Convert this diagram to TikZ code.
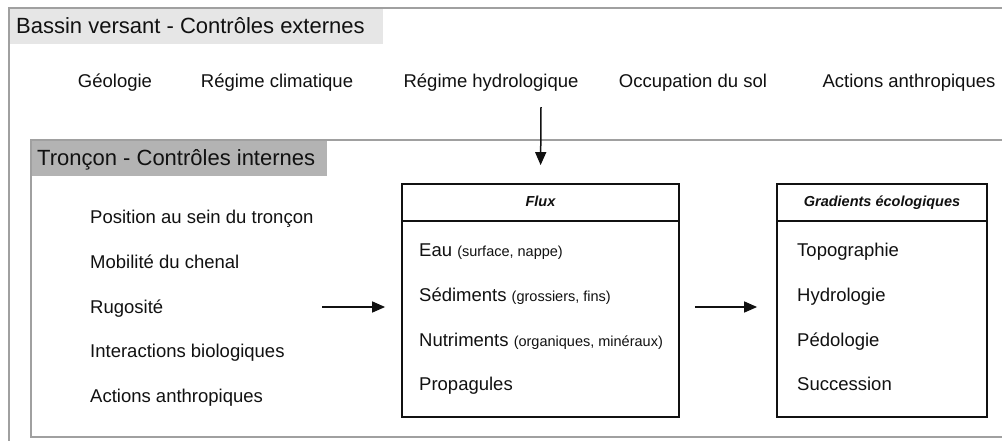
\documentclass[tikz,border=0pt]{standalone}
\usepackage{fontspec}
\setmainfont{Liberation Sans}
\usetikzlibrary{arrows.meta}
\definecolor{framegray}{HTML}{A0A0A0}
\definecolor{headlight}{HTML}{E6E6E6}
\definecolor{headdark}{HTML}{B3B3B3}
\definecolor{ink}{HTML}{111111}
\newcommand\myparen[1]{{\fontsize{14.5}{16}\selectfont #1}}
\begin{document}
\begin{tikzpicture}[x=1pt,y=-1pt,
  item/.style={font=\fontsize{18.5}{20}\selectfont, text=ink, inner sep=0pt, anchor=base west},
  topitem/.style={font=\fontsize{18.5}{20}\selectfont, text=ink, inner sep=0pt, anchor=base},
  title/.style={font=\fontsize{22}{24}\selectfont, text=ink, inner sep=0pt, anchor=base west},
  boxhead/.style={font=\fontsize{14.5}{16}\selectfont\bfseries\itshape, text=ink, inner sep=0pt, anchor=base},
  panel/.style={draw=ink, line width=1.8pt, fill=white, inner sep=0pt},
  divider/.style={draw=ink, line width=1.8pt},
  frame/.style={draw=framegray, line width=2pt},
  arr/.style={-{Triangle[length=13pt,width=11pt]}, line width=1.5pt, draw=ink},
]
\useasboundingbox (0,0) rectangle (1002,440);
\clip (0,0) rectangle (1002,440);
\fill[white] (0,0) rectangle (1002,440);

% outer frame (bassin versant)
\fill[headlight] (9,8) rectangle (383,44);
\draw[frame] (9,8) rectangle (1030,470);
\node[title] (bvtitle) at (16,33) {Bassin versant - Contrôles externes};

\node[topitem] (geol) at (115,87) {Géologie};
\node[topitem] (clim) at (277,87) {Régime climatique};
\node[topitem] (hydro) at (491,87) {Régime hydrologique};
\node[topitem] (occup) at (693,87) {Occupation du sol};
\node[topitem] (anthro) at (909,87) {Actions anthropiques};

% inner frame (troncon)
\fill[headdark] (31,140) rectangle (327,176);
\draw[frame] (31,140) rectangle (1030,437);
\node[title] (trtitle) at (37,165) {Tronçon - Contrôles internes};

\node[item] (pos) at (90,223) {Position au sein du tronçon};
\node[item] (mob) at (90,268) {Mobilité du chenal};
\node[item] (rug) at (90,313) {Rugosité};
\node[item] (inter) at (90,357.5) {Interactions biologiques};
\node[item] (actint) at (90,402.5) {Actions anthropiques};

% Flux box
\node[panel, minimum width=277pt, minimum height=233pt] (flux) at (540.5,300.5) {};
\draw[divider] (flux.west |- 0,221) -- (flux.east |- 0,221);
\node[boxhead] (fluxhead) at (540.5,206.5) {Flux};
\node[item] (eau) at (419,256.5) {Eau \myparen{(surface, nappe)}};
\node[item] (sed) at (419,301.5) {Sédiments \myparen{(grossiers, fins)}};
\node[item] (nut) at (419,346) {Nutriments \myparen{(organiques, minéraux)}};
\node[item] (prop) at (419,390.5) {Propagules};

% Gradients box
\node[panel, minimum width=210pt, minimum height=233pt] (grad) at (882,300.5) {};
\draw[divider] (grad.west |- 0,221) -- (grad.east |- 0,221);
\node[boxhead] (gradhead) at (882,206.5) {Gradients écologiques};
\node[item] (topo) at (797,256) {Topographie};
\node[item] (hydrol) at (797,301) {Hydrologie};
\node[item] (pedo) at (797,346) {Pédologie};
\node[item] (succ) at (797,390.5) {Succession};

% connectors
\coordinate (hydroarrow) at (541,107);
\draw[arr, shorten >=18pt] (hydroarrow) -- (flux.north);
\coordinate (ctrlout) at (322,307);
\draw[arr, shorten >=16pt] (ctrlout) -- (flux.west |- ctrlout);
\draw[arr, shorten <=15pt, shorten >=19pt] ([yshift=-6.5pt]flux.east) -- ([yshift=-6.5pt]grad.west);
\end{tikzpicture}
\end{document}
